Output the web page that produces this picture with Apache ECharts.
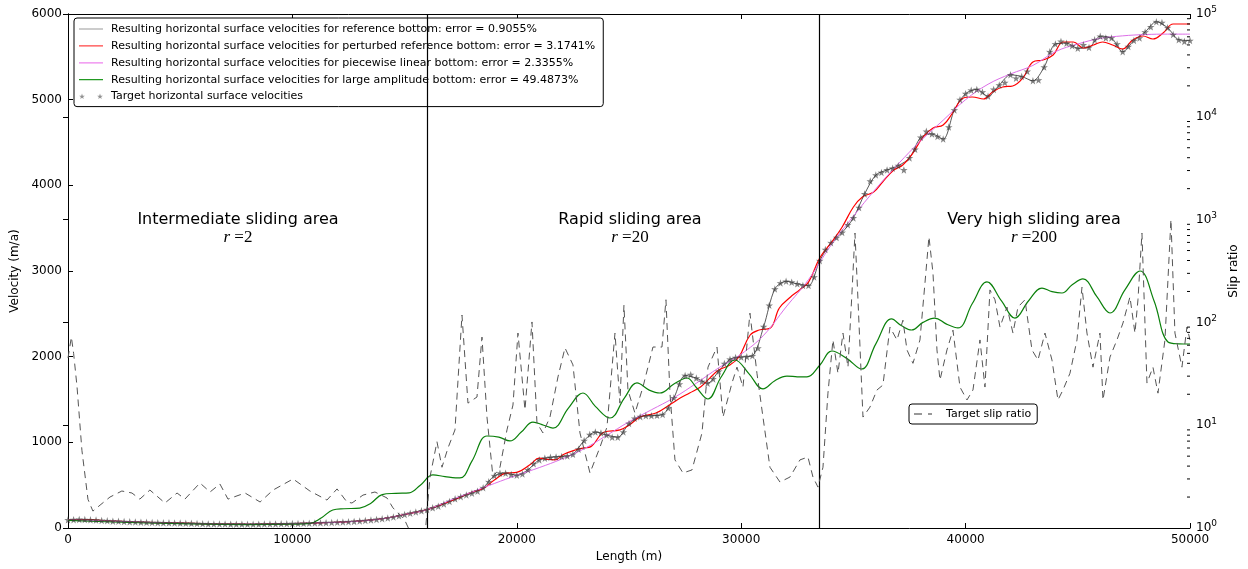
<!DOCTYPE html>
<html><head><meta charset="utf-8">
<script src="https://cdn.jsdelivr.net/npm/echarts/dist/echarts.min.js"></script>
<style>html,body{margin:0;padding:0;background:#fff}#c{width:1248px;height:569px}</style>
</head><body><div id="c"></div>
<script>
// ---------- DATA ----------
const seriesNames = [
  'Resulting horizontal surface velocities for reference bottom: error = 0.9055%',
  'Resulting horizontal surface velocities for perturbed reference bottom: error = 3.1741%',
  'Resulting horizontal surface velocities for piecewise linear bottom: error = 2.3355%',
  'Resulting horizontal surface velocities for large amplitude bottom: error = 49.4873%',
  'Target horizontal surface velocities',
  'Target slip ratio'
];
const zoneBounds = [16000, 33500];
const zoneNames = ['Intermediate sliding area', 'Rapid sliding area', 'Very high sliding area'];
const zoneRatios = ['2', '20', '200'];
const zoneLabelLength = [7575, 25043, 43045];
const zoneLabelVelocity = [3600, 3395];
const slipMinorTicks = [
  2,3,4,5,6,7,8,9, 20,30,40,50,60,70,80,90, 200,300,400,500,600,700,800,900,
  2000,3000,4000,5000,6000,7000,8000,9000, 20000,30000,40000,50000,60000,70000,80000,90000
];

const targetStep = 250;   // target samples every 250 m
const targetVelocity = [
  95,97,100,98,95,92,88,85,80,78,75,72,70,68,66,64,62,60,60,58,
  57,56,54,52,50,48,47,46,46,45,45,45,44,44,45,46,47,48,49,50,
  52,53,54,56,58,60,62,64,67,70,73,77,82,87,93,100,108,117,128,142,
  158,172,186,200,215,235,255,280,310,340,365,385,405,430,470,540,610,640,640,625,
  615,630,680,750,795,815,825,830,835,840,860,920,1020,1090,1120,1110,1085,1060,1060,1120,
  1220,1280,1300,1310,1310,1315,1325,1400,1520,1680,1780,1790,1750,1710,1690,1740,1830,1920,1970,1990,
  1995,2000,2010,2100,2350,2600,2790,2860,2880,2870,2850,2830,2830,2930,3120,3250,3330,3390,3450,3540,
  3620,3740,3900,4050,4120,4150,4180,4200,4230,4180,4320,4420,4560,4630,4600,4570,4540,4680,4880,5000,
  5070,5110,5120,5090,5040,5120,5170,5200,5290,5250,5270,5330,5220,5230,5380,5560,5650,5680,5660,5630,
  5600,5640,5610,5700,5740,5720,5720,5650,5560,5620,5690,5720,5790,5850,5910,5900,5840,5760,5700,5680,
  5690
];
const referenceStep = 500; // reference-bottom result every 500 m
const referenceVelocity = [
  95,100,95,88,80,75,70,66,62,60, 57,54,50,47,46,45,44,45,47,49,
  52,54,58,62,67,73,82,93,108,128, 158,186,215,255,310,365,405,470,610,640,
  615,680,795,825,835,860,1020,1120,1085,1060, 1220,1300,1310,1325,1520,1780,1750,1690,1830,1970,
  1995,2010,2350,2790,2880,2850,2830,3120,3330,3450, 3620,3900,4120,4180,4230,4320,4560,4600,4540,4880,
  5070,5120,5040,5170,5290,5270,5220,5380,5650,5660, 5600,5610,5740,5720,5560,5690,5790,5910,5840,5700,
  5690
];
const perturbedCurve = [
  [0,95],[1000,95],[2000,80],[3000,70],[4000,62],[5000,57],[6000,50],[7000,46],[8000,44],[9000,47],
  [10000,52],[11000,58],[12000,67],[13000,82],[14000,108],[15000,158],[16000,215],[17000,310],[17500,360],
  [18000,420],[18500,460],[19000,560],[19500,640],[20000,650],[20600,740],[21000,815],[21400,800],[21700,795],
  [22100,860],[22600,910],[23000,935],[23300,950],[23900,1120],[24600,1145],[25000,1200],[25500,1296],
  [26200,1342],[26800,1436],[27300,1520],[27700,1576],[28200,1650],[28600,1750],[29000,1844],[29500,1903],
  [29900,1996],[30400,2253],[30800,2311],[31300,2335],[31700,2568],[32200,2697],[32600,2778],[33000,2870],
  [33500,3152],[34100,3362],[34500,3514],[35000,3747],[35400,3864],[35900,3922],[36300,4039],[36800,4179],
  [37200,4237],[37650,4377],[38100,4564],[38550,4669],[39000,4704],[39450,4856],[39900,5019],[40300,5031],
  [40800,5008],[41200,5090],[41650,5148],[42100,5160],[42550,5253],[43000,5440],[43450,5463],[43900,5521],
  [44350,5673],[44800,5673],[45250,5603],[45700,5638],[46100,5673],[46550,5638],[47000,5591],[47450,5696],
  [47900,5743],[48350,5708],[48800,5778],[49250,5883],[50000,5883]
];
const piecewiseCurve = [
  [0,95],[2000,80],[4000,62],[6000,50],[8000,44],[10000,52],[12000,67],[13000,82],[14000,108],[15000,158],
  [16000,215],[17000,320],[18000,420],[19000,520],[20000,615],[21000,705],[22000,805],[23000,925],[24000,1080],
  [25000,1240],[26000,1380],[27000,1520],[28000,1690],[29000,1870],[30000,2030],[31000,2250],[32000,2580],
  [33000,2900],[34000,3300],[35000,3640],[36000,3960],[37000,4250],[38000,4520],[39000,4760],[40000,5000],
  [41000,5180],[42000,5300],[43000,5400],[44000,5560],[45000,5650],[46000,5715],[47000,5745],[48000,5760],
  [49000,5765],[50000,5765]
];
const largeAmplitudeCurve = [
  [0,90],[2000,70],[5000,50],[8000,40],[10000,45],[10800,55],[11300,120],[11800,210],[12300,225],[13000,233],
  [13500,290],[14000,390],[14600,405],[15200,410],[15700,500],[16265,619],[16800,600],[17467,584],[18000,780],
  [18670,1074],[19200,1060],[19696,1016],[20200,1120],[20721,1237],[21200,1200],[21612,1167],[22300,1400],
  [22950,1576],[23500,1420],[24152,1284],[24800,1520],[25355,1693],[25900,1610],[26380,1576],[27000,1680],
  [27583,1751],[28000,1640],[28520,1506],[29100,1760],[29722,1961],[30350,1800],[30970,1623],[31500,1720],
  [32040,1774],[32500,1765],[32931,1763],[33500,1900],[34045,2066],[34700,1980],[35367,1856],[36000,2150],
  [36704,2440],[37150,2360],[37595,2311],[38100,2400],[38620,2451],[39150,2380],[39660,2335],[40300,2620],
  [40953,2872],[41600,2650],[42201,2451],[42800,2650],[43404,2801],[43850,2760],[44295,2743],[44750,2840],
  [45231,2907],[45850,2700],[46434,2510],[47100,2780],[47771,3000],[48400,2650],[49019,2171],[49500,2150],
  [50000,2148]
];
const slipRatio = [
  [0,45],[150,72],[250,50],[400,24],[620,5.7],[890,1.9],[1110,1.46],[1430,1.67],[1870,2.0],[2400,2.29],
  [2850,2.19],[3200,1.91],[3650,2.34],[4320,1.75],[4860,2.19],[5210,1.91],[5880,2.74],[6330,2.24],[6770,2.68],
  [7130,1.91],[7890,2.19],[8560,1.79],[9140,2.34],[10030,3.0],[10780,2.29],[11540,1.87],[11990,2.4],[12430,1.79],
  [12655,1.75],[13145,2.09],[13680,2.24],[14215,1.96],[14482,1.57],[15000,1.2],[15500,0.7],[15900,0.8],
  [16131,3.13],[16443,6.9],[16666,3.9],[16933,6.0],[17245,9.0],[17557,118],[17824,16.4],[18225,18.8],[18448,72],
  [18671,12],[18938,3.13],[19250,3.9],[19562,9.0],[19829,15.7],[20052,78.8],[20364,14.1],[20676,101],[20899,10.5],
  [21166,8.4],[21478,12],[21835,29.5],[22147,56.5],[22503,38.6],[22815,8.4],[23261,3.43],[23706,6.1],[24018,9.6],
  [24375,78.8],[24597,16.4],[24775,147],[24953,22],[25265,13.1],[25622,23.5],[26068,57.6],[26469,57.6],[26647,166],
  [26825,20.5],[27048,4.6],[27405,3.43],[27806,3.67],[28252,8.4],[28520,36.7],[28921,57.6],[29188,12],[29589,25.7],
  [29812,36.7],[30079,23.5],[30390,123],[30702,32],[30970,12],[31281,3.9],[31727,2.8],[32173,3.13],[32619,4.6],
  [32975,4.9],[33198,3.13],[33421,2.5],[33644,3.9],[33866,20.5],[34089,67.5],[34312,32],[34535,78.8],[34758,36.7],
  [34936,194],[35070,740],[35204,166],[35427,12],[35738,15],[36050,22],[36317,24.6],[36629,90],[36941,67.5],
  [37208,105],[37387,54],[37654,40],[37966,67.5],[38189,241],[38367,680],[38546,303],[38724,54],[38858,27.5],
  [39170,54],[39437,84],[39749,23.5],[40061,17.6],[40328,22],[40640,67.5],[40863,23.5],[41086,207],[41309,166],
  [41532,90],[41844,141],[42111,78.8],[42334,141],[42646,166],[42958,54],[43225,43],[43537,78.8],[43849,43],
  [44116,17.6],[44339,22],[44651,32],[44963,67.5],[45186,220],[45408,78.8],[45676,36.7],[45988,78.8],[46122,17.6],
  [46434,46],[46745,67.5],[47013,98.6],[47324,177],[47547,78.8],[47681,166],[47859,740],[48082,25.7],[48349,36.7],
  [48572,20.5],[48884,67.5],[49151,1000],[49329,78.8],[49641,36.7],[49864,90],[50000,67.5]
];

// ---------- CHART ----------
const FONT = 'DejaVu Sans';
const starPath = 'path://M50,0 L61.8,35.4 L98.1,34.5 L69,56.5 L79.4,90.5 L50,70 L20.6,90.5 L31,56.5 L1.9,34.5 L38.2,35.4 Z';
const BOX = 'M0,0 L0.01,0 Z M28,12 L27.99,12 Z ';
const lineIcon = 'path://' + BOX + 'M1,5.4 L25,5.4 L25,6.6 L1,6.6 Z';
const dashIcon = 'path://' + BOX + 'M1,5.5 L9,5.5 L9,6.5 L1,6.5 Z M15,5.5 L19,5.5 L19,6.5 L15,6.5 Z';
const twoStars = 'path://' + BOX + 'M4,3 L4.71,5.03 L6.85,5.07 L5.14,6.37 L5.76,8.43 L4,7.2 L2.24,8.43 L2.86,6.37 L1.15,5.07 L3.29,5.03 Z M22,3 L22.71,5.03 L24.85,5.07 L23.14,6.37 L23.76,8.43 L22,7.2 L20.24,8.43 L20.86,6.37 L19.15,5.07 L21.29,5.03 Z';

const targetData = targetVelocity.map((v, i) => [i * targetStep, v]);
const referenceData = referenceVelocity.map((v, i) => [i * referenceStep, v]);

const chart = echarts.init(document.getElementById('c'), null, {renderer: 'canvas'});
const axisLine = {show: true, lineStyle: {color: '#000', width: 1}};
const tickIn = {show: true, inside: true, length: 5, lineStyle: {color: '#000'}};
const plain = v => String(v);

chart.setOption({
  animation: false,
  backgroundColor: '#fff',
  textStyle: {fontFamily: FONT},
  grid: {left: 68, right: 58, top: 14, bottom: 41, containLabel: false},
  legend: [
    {
      orient: 'vertical', left: 74, top: 18,
      padding: [5, 8, 4, 4], itemGap: 4.9, itemWidth: 28, itemHeight: 12,
      borderColor: '#000', borderWidth: 1, borderRadius: 3, backgroundColor: '#fff',
      textStyle: {fontFamily: FONT, fontSize: 11, color: '#000'},
      selectedMode: false,
      data: [
        {name: seriesNames[0], icon: lineIcon, itemStyle: {color: '#999'}},
        {name: seriesNames[1], icon: lineIcon, itemStyle: {color: '#ff4444'}},
        {name: seriesNames[2], icon: lineIcon, itemStyle: {color: '#ee82ee'}},
        {name: seriesNames[3], icon: lineIcon, itemStyle: {color: '#229922'}},
        {name: seriesNames[4], icon: twoStars, itemStyle: {color: '#777'}}
      ]
    },
    {
      orient: 'vertical', left: 909, top: 404,
      padding: [4, 6, 4, 4], itemWidth: 28, itemHeight: 12,
      borderColor: '#000', borderWidth: 1, borderRadius: 3, backgroundColor: '#fff',
      textStyle: {fontFamily: FONT, fontSize: 11, color: '#000'},
      selectedMode: false,
      data: [{name: seriesNames[5], icon: dashIcon, itemStyle: {color: '#333'}}]
    }
  ],
  xAxis: [
    {
      type: 'value', min: 0, max: 50000, interval: 10000, position: 'bottom',
      name: 'Length (m)', nameLocation: 'middle', nameGap: 22,
      nameTextStyle: {fontFamily: FONT, fontSize: 12, color: '#000'},
      axisLine, axisTick: tickIn, splitLine: {show: false},
      axisLabel: {color: '#000', fontSize: 12, fontFamily: FONT, margin: 6, formatter: plain}
    },
    {
      type: 'value', min: 0, max: 50000, interval: 10000, position: 'top',
      axisLine, axisTick: tickIn, splitLine: {show: false}, axisLabel: {show: false}
    }
  ],
  yAxis: [
    {
      type: 'value', min: 0, max: 6000, interval: 1000, position: 'left',
      name: 'Velocity (m/a)', nameLocation: 'middle', nameGap: 45, nameRotate: 90,
      nameTextStyle: {fontFamily: FONT, fontSize: 12, color: '#000'},
      axisLine, axisTick: tickIn, splitLine: {show: false},
      axisLabel: {color: '#000', fontSize: 12, fontFamily: FONT, margin: 6, formatter: plain}
    },
    {
      type: 'log', logBase: 10, min: 1, max: 100000, position: 'right',
      name: 'Slip ratio', nameLocation: 'middle', nameGap: 36, nameRotate: 90,
      nameTextStyle: {fontFamily: FONT, fontSize: 12, color: '#000'},
      axisLine, axisTick: tickIn, splitLine: {show: false},
      axisLabel: {
        color: '#000', margin: 6,
        formatter: v => '{b|10}{s|' + Math.round(Math.log10(v)) + '}',
        rich: {
          b: {fontSize: 12, fontFamily: FONT, color: '#000'},
          s: {fontSize: 9, fontFamily: FONT, color: '#000', verticalAlign: 'top', padding: [0, 0, 8, 0]}
        }
      }
    }
  ],
  series: [
    {
      name: seriesNames[0], type: 'line', data: referenceData, smooth: 0.3, showSymbol: false, symbol: 'none',
      lineStyle: {color: 'rgba(0,0,0,0.65)', width: 1}, itemStyle: {color: '#999'}, z: 2
    },
    {
      name: seriesNames[1], type: 'line', data: perturbedCurve, smooth: 0.4, symbol: 'none',
      lineStyle: {color: '#ff0000', width: 1.2}, itemStyle: {color: '#ff0000'}, z: 3
    },
    {
      name: seriesNames[2], type: 'line', data: piecewiseCurve, smooth: 0.4, symbol: 'none',
      lineStyle: {color: '#dd6fe8', width: 1}, itemStyle: {color: '#ee82ee'}, z: 3,
      markLine: {
        silent: true, symbol: 'none', label: {show: false},
        lineStyle: {color: '#000', width: 1.2, type: 'solid'},
        data: zoneBounds.map(b => ({xAxis: b}))
      }
    },
    {
      name: seriesNames[3], type: 'line', data: largeAmplitudeCurve, smooth: 0.4, symbol: 'none',
      lineStyle: {color: '#0b800b', width: 1.2}, itemStyle: {color: '#0b800b'}, z: 3
    },
    {
      name: seriesNames[4], type: 'scatter', data: targetData, symbol: starPath, symbolSize: 7.5,
      itemStyle: {color: 'rgba(55,55,55,0.78)'}, z: 4
    },
    {
      name: seriesNames[5], type: 'line', yAxisIndex: 1, data: slipRatio, symbol: 'none', clip: true,
      lineStyle: {color: '#555', width: 1, type: [7, 5]}, itemStyle: {color: '#555'}, z: 5
    },
    {
      // minor log ticks on the slip-ratio axis
      name: 'slipMinorTicks', type: 'custom', xAxisIndex: 0, yAxisIndex: 1, silent: true, clip: false, z: 6,
      data: slipMinorTicks.map(v => [50000, v]),
      renderItem: (params, api) => {
        const p = api.coord([api.value(0), api.value(1)]);
        return {type: 'line', shape: {x1: p[0] - 3, y1: p[1], x2: p[0], y2: p[1]},
                style: {stroke: '#000', lineWidth: 1}};
      }
    }
  ]
});

// zone annotations, placed by data coordinates
const graphics = [];
zoneNames.forEach((name, i) => {
  const p1 = chart.convertToPixel({xAxisIndex: 0, yAxisIndex: 0}, [zoneLabelLength[i], zoneLabelVelocity[0]]);
  const p2 = chart.convertToPixel({xAxisIndex: 0, yAxisIndex: 0}, [zoneLabelLength[i], zoneLabelVelocity[1]]);
  graphics.push({
    type: 'text', x: p1[0], y: p1[1], z: 10,
    style: {text: name, fill: '#000', font: '16px "DejaVu Sans"', align: 'center', verticalAlign: 'middle'}
  });
  graphics.push({
    type: 'text', x: p2[0], y: p2[1], z: 10,
    style: {
      text: '{i|r}{n| =' + zoneRatios[i] + '}', align: 'center', verticalAlign: 'middle',
      rich: {
        i: {fontFamily: 'Liberation Serif', fontStyle: 'italic', fontSize: 17, fill: '#000'},
        n: {fontFamily: 'Liberation Serif', fontSize: 17, fill: '#000'}
      }
    }
  });
});
chart.setOption({graphic: graphics});
</script>
</body></html>
